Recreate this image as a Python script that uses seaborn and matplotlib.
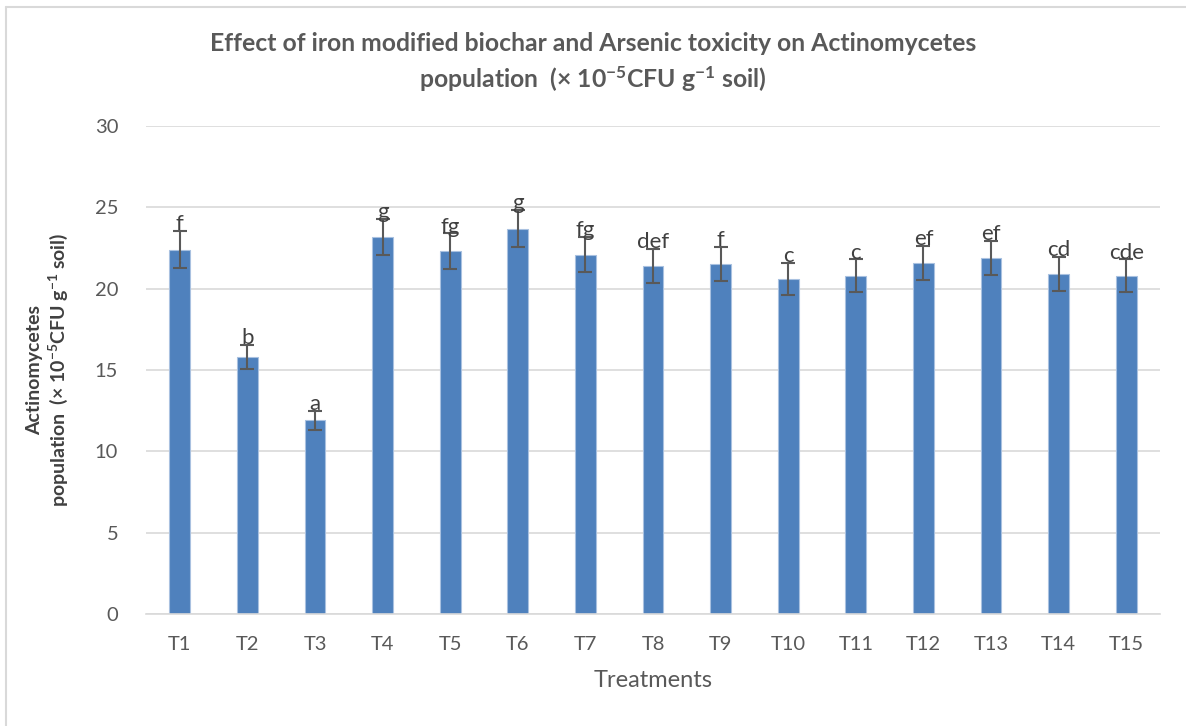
import matplotlib
matplotlib.use('Agg')
import matplotlib.pyplot as plt
import seaborn as sns
import pandas as pd

treatments = ['T1', 'T2', 'T3', 'T4', 'T5', 'T6', 'T7', 'T8', 'T9', 'T10',
              'T11', 'T12', 'T13', 'T14', 'T15']
population = [22.4, 15.8, 11.9, 23.2, 22.3, 23.7, 22.1, 21.4, 21.5, 20.6,
              20.8, 21.6, 21.9, 20.9, 20.8]
errors = [1.15, 0.75, 0.6, 1.1, 1.1, 1.15, 1.1, 1.05, 1.05, 1.0,
          1.0, 1.05, 1.05, 1.05, 1.0]
letters = ['f', 'b', 'a', 'g', 'fg', 'g', 'fg', 'def', 'f', 'c',
           'c', 'ef', 'ef', 'cd', 'cde']

df = pd.DataFrame({'Treatment': treatments, 'Population': population})

sns.set_style('white')
plt.rcParams['font.family'] = ['Lato', 'DejaVu Sans']
plt.rcParams['mathtext.default'] = 'regular'

text_col = '#595959'

fig = plt.figure(figsize=(11.86, 7.26), dpi=100)
# chart-area border (only top and left edges show in the crop)
fig.add_artist(plt.Line2D([6 / 1186, 1], [1 - 7 / 726, 1 - 7 / 726],
                          color='#d9d9d9', linewidth=1.5))
fig.add_artist(plt.Line2D([6 / 1186, 6 / 1186], [0, 1 - 7 / 726],
                          color='#d9d9d9', linewidth=1.5))

ax = fig.add_axes([0.1231, 0.1543, 0.855, 0.6721])

sns.barplot(data=df, x='Treatment', y='Population', color='#4F81BD',
            saturation=1, width=0.31, edgecolor='#A9C1E0', linewidth=0.8, ax=ax)
ax.errorbar(range(len(treatments)), population, yerr=errors, fmt='none',
            ecolor='#595959', elinewidth=1.5, capsize=5, capthick=1.5, zorder=3)

for i, (v, e, s) in enumerate(zip(population, errors, letters)):
    ax.text(i, v + e + 0.05, s, ha='center', va='baseline', fontsize=16,
            color='#404040', zorder=4)

ax.set_ylim(0, 30)
ax.set_xlim(-0.5, len(treatments) - 0.5)
ax.set_yticks(range(0, 31, 5))
ax.yaxis.grid(True, color='#d9d9d9', linewidth=1.2)
ax.set_axisbelow(True)
for side in ['top', 'right', 'left']:
    ax.spines[side].set_visible(False)
ax.spines['bottom'].set_color('#d9d9d9')
ax.spines['bottom'].set_linewidth(1.2)
ax.tick_params(axis='both', length=0, labelsize=14.5, colors=text_col)
ax.tick_params(axis='x', pad=16)
ax.tick_params(axis='y', pad=20)

ax.set_xlabel('Treatments', fontsize=17, color=text_col, labelpad=12)
ax.set_ylabel('Actinomycetes\npopulation  (× 10$^{-5}$CFU g$^{-1}$ soil)',
              fontsize=14, fontweight='bold', color='#404040', labelpad=18)

fig.text(0.5, 0.913,
         'Effect of iron modified biochar and Arsenic toxicity on Actinomycetes\n'
         'population  (× 10$^{-5}$CFU g$^{-1}$ soil)',
         ha='center', va='center', fontsize=17.8, fontweight='bold', color=text_col,
         linespacing=1.4)

fig.savefig('out.png', dpi=100)
